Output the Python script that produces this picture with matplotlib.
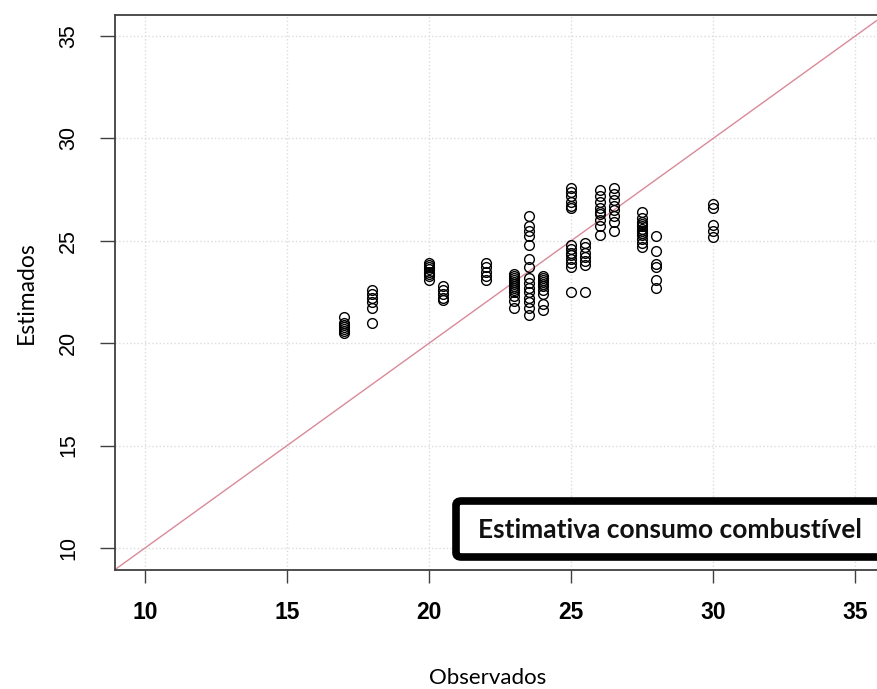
import matplotlib
matplotlib.use("Agg")
import matplotlib.pyplot as plt
from matplotlib.patches import FancyBboxPatch

# observed value of each column and the estimates stacked in it
obs_17 = [17] * 7
est_17 = [21.3, 21.0, 20.9, 20.8, 20.7, 20.6, 20.5]
obs_18 = [18] * 6
est_18 = [22.6, 22.4, 22.2, 22.0, 21.7, 21.0]
obs_20 = [20] * 8
est_20 = [23.9, 23.8, 23.7, 23.6, 23.5, 23.4, 23.3, 23.1]
obs_205 = [20.5] * 5
est_205 = [22.8, 22.6, 22.4, 22.2, 22.1]
obs_22 = [22] * 5
est_22 = [23.9, 23.7, 23.5, 23.3, 23.1]
obs_23 = [23] * 13
est_23 = [23.4, 23.3, 23.2, 23.1, 23.0, 22.9, 22.8, 22.7, 22.6, 22.5, 22.3, 22.05, 21.7]
obs_235 = [23.5] * 15
est_235 = [26.2, 25.7, 25.5, 25.25, 24.8, 24.1, 23.7, 23.2, 22.95, 22.7,
           22.5, 22.2, 22.0, 21.7, 21.4]
obs_24 = [24] * 10
est_24 = [23.3, 23.2, 23.1, 23.0, 22.9, 22.8, 22.6, 22.4, 21.9, 21.6]
obs_25 = [25] * 14
est_25 = [27.6, 27.4, 27.2, 26.9, 26.7, 26.6, 24.8, 24.6, 24.4, 24.3,
          24.1, 23.9, 23.7, 22.5]
obs_255 = [25.5] * 7
est_255 = [24.9, 24.7, 24.4, 24.2, 24.0, 23.8, 22.5]
obs_26 = [26] * 9
est_26 = [27.5, 27.2, 26.9, 26.6, 26.4, 26.3, 26.0, 25.7, 25.3]
obs_265 = [26.5] * 8
est_265 = [27.6, 27.3, 27.0, 26.7, 26.5, 26.2, 25.9, 25.5]
obs_275 = [27.5] * 12
est_275 = [26.4, 26.1, 25.9, 25.8, 25.7, 25.6, 25.5, 25.4, 25.3, 25.1, 24.9, 24.7]
obs_28 = [28] * 6
est_28 = [25.25, 24.5, 23.85, 23.7, 23.1, 22.7]
obs_30 = [30] * 5
est_30 = [26.8, 26.6, 25.75, 25.5, 25.2]

observados = (obs_17 + obs_18 + obs_20 + obs_205 + obs_22 + obs_23 + obs_235
              + obs_24 + obs_25 + obs_255 + obs_26 + obs_265 + obs_275
              + obs_28 + obs_30)
estimados = (est_17 + est_18 + est_20 + est_205 + est_22 + est_23 + est_235
             + est_24 + est_25 + est_255 + est_26 + est_265 + est_275
             + est_28 + est_30)

ticks = [10, 15, 20, 25, 30, 35]
legend_text = "Estimativa consumo combustível"

W, H = 877, 689
fig = plt.figure(figsize=(W / 100, H / 100), dpi=100)
ax = fig.add_axes([115 / W, 119 / H, 768 / W, 555 / H])

ax.grid(True, color="#dcdcdc", linestyle=":", linewidth=1)
ax.set_axisbelow(True)
ax.axline((0, 0), (1, 1), color="#d98a99", linewidth=1)
ax.plot(observados, estimados, "o", mfc="none", mec="black", ms=7, mew=1.0)

ax.set_xlim(8.94, 35.98)
ax.set_ylim(8.92, 36.03)
ax.set_xticks(ticks)
ax.set_yticks(ticks)
for s in ax.spines.values():
    s.set_color("#404040")
    s.set_linewidth(1.3)

ax.tick_params(axis="x", direction="out", length=9, width=1, color="#404040", pad=13)
ax.tick_params(axis="y", direction="out", length=11, width=1, color="#404040", pad=15)
for lab in ax.get_xticklabels():
    lab.set_fontfamily(["Liberation Sans Narrow", "Liberation Sans"])
    lab.set_fontweight("bold")
    lab.set_fontsize(16.5)
for lab in ax.get_yticklabels():
    lab.set_fontfamily("Liberation Sans")
    lab.set_fontsize(15.5)
    lab.set_rotation(90)
    lab.set_verticalalignment("center")

fig.text(488 / W, 1 - 678 / H, "Observados", family="Lato", fontsize=16,
         ha="center", va="center")
fig.text(26 / W, 1 - 293 / H, "Estimados", family="Lato", fontsize=16.5,
         ha="center", va="center", rotation=90)

box = FancyBboxPatch((456 / W, 1 - 557 / H), 0.55, 56 / H,
                     boxstyle="round,pad=0,rounding_size=0.006",
                     linewidth=5.5, edgecolor="black", facecolor="white",
                     transform=fig.transFigure)
fig.add_artist(box)
fig.text(670 / W, 1 - 530 / H, legend_text, family="Lato", fontweight="bold",
         fontsize=19, ha="center", va="center", color="#111111")

fig.savefig("out.png", dpi=100)
